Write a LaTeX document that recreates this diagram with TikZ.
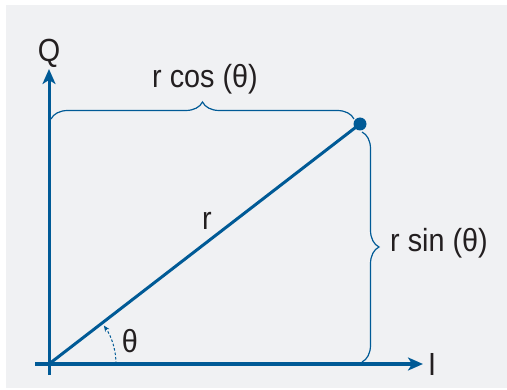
\documentclass[tikz,border=0pt]{standalone}
\usepackage{fontspec}
\setmainfont[FakeStretch=0.9]{Liberation Sans}
\usetikzlibrary{arrows.meta,decorations.pathreplacing}
\definecolor{bgc}{HTML}{F0F1F3}
\definecolor{blu}{HTML}{005A96}
\definecolor{txt}{HTML}{231F20}
\tikzset{
  axis/.style={blu, line width=3pt, -{Stealth[length=15pt,width=13pt,inset=4pt]}},
  vec/.style={blu, line width=3pt},
  brc/.style={blu, line width=1.2pt, decorate, decoration={brace, amplitude=17pt}},
  lbl/.style={text=txt, font=\fontsize{32}{36}\selectfont, inner sep=0pt},
}
\begin{document}
\begin{tikzpicture}[x=1pt,y=1pt]
\useasboundingbox (0,0) rectangle (507,389);
\fill[white] (0,0) rectangle (507,389);
\fill[bgc] (6,1) rectangle (507,384);
\coordinate (O) at (49,25);
\coordinate (P) at (360,265);
\coordinate (vb) at (49,14);
\coordinate (vt) at (49,320);
\coordinate (hl) at (35,25);
\coordinate (hr) at (423,25);
\draw[axis] (vb) -- (vt);
\draw[axis] (hl) -- (hr);
\node[lbl] (Q) at (49,336) {Q};
\node[lbl] (I) at (432,25) {I};
\draw[vec] (O) -- (P);
\fill[blu] (P) circle (6.5);
\node[lbl] (r) at (207,168) {r};
\node[lbl] (th) at (130,48) {θ};
\draw[blu, line width=1pt, dash pattern=on 2.5pt off 2pt, -{Stealth[length=6pt,width=5pt]}] ([shift={(0:67)}]O) arc[start angle=0, end angle=35, radius=67];
\coordinate (tb1) at (51,270);
\coordinate (tb2) at (354,270);
\draw[brc] (tb1) -- (tb2);
\node[lbl] (rc) at (205,310) {r cos (θ)};
\coordinate (rb1) at (362,257);
\coordinate (rb2) at (362,27);
\draw[brc] (rb1) -- (rb2);
\node[lbl] (rs) at (439,146) {r sin (θ)};
\end{tikzpicture}
\end{document}
